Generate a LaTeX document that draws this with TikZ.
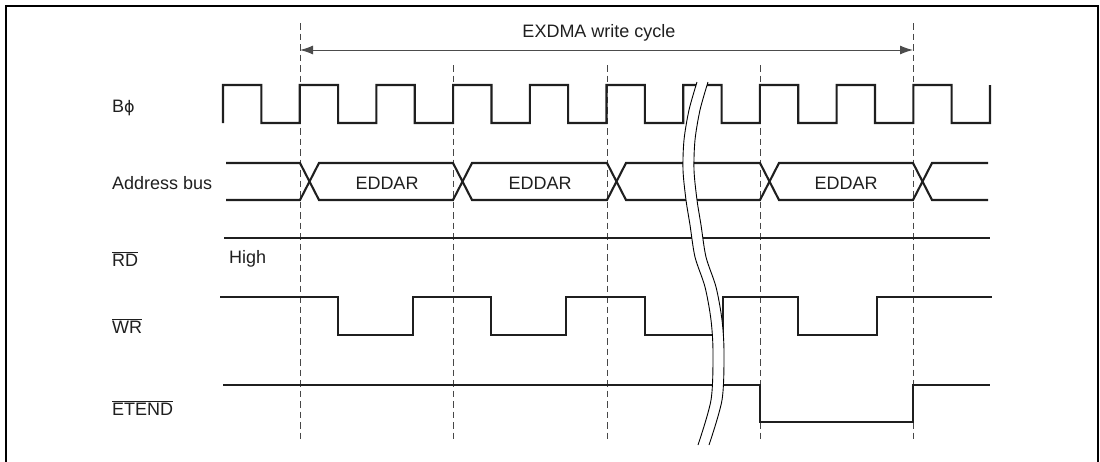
\documentclass[tikz,border=0pt]{standalone}
\usepackage{fontspec}
\setmainfont{Liberation Sans}
\newfontfamily\dvsfont{DejaVu Sans}
\usetikzlibrary{arrows.meta}
\begin{document}
\begin{tikzpicture}[x=1pt,y=-1pt,
  sig/.style={line width=2.1pt, color=black!88, line join=miter},
  guide/.style={line width=1pt, color=black!72, dash pattern=on 6.5pt off 4pt},
  lbl/.style={anchor=west, inner sep=0pt, text=black!88, font=\fontsize{18}{20}\selectfont},
  ctext/.style={inner sep=0pt, text=black!88, font=\fontsize{18}{20}\selectfont},
  brk/.style={line width=0.9pt, color=black}]
\useasboundingbox (0,0) rectangle (1100,461);
% frame
\draw[line width=2pt] (6,462) -- (6,6) -- (1098,6) -- (1098,462);
% guide coordinates
\coordinate (g1t) at (300,23); \coordinate (g1b) at (300,442);
\coordinate (g2t) at (453,65); \coordinate (g2b) at (453,442);
\coordinate (g3t) at (607,65); \coordinate (g3b) at (607,442);
\coordinate (g4t) at (760,65); \coordinate (g4b) at (760,442);
\coordinate (g5t) at (913,23); \coordinate (g5b) at (913,442);
\foreach \i in {1,...,5} \draw[guide] (g\i t) -- (g\i b);
% cycle arrow
\coordinate (aL) at (300,50); \coordinate (aR) at (913,50);
\draw[line width=1pt, color=black!70, {Latex[length=13pt,width=9pt]}-{Latex[length=13pt,width=9pt]}] (aL) -- (aR);
\node[ctext] (cyc) at (599,33) {EXDMA write cycle};
% labels
\node[lbl] (lbp) at (112,108) {B{\dvsfont\fontsize{16}{18}\selectfont ϕ}};
\node[lbl] (lab) at (112,183) {Address bus};
\node[lbl] (lrd) at (112,259) {$\overline{\mbox{RD}}$};
\node[lbl] (lwr) at (112,326) {$\overline{\mbox{WR}}$};
\node[lbl] (let) at (112,408) {$\overline{\mbox{ETEND}}$};
\node[lbl] (lhi) at (229,259) {High};
% clock
\draw[sig] (223,123) \foreach \k in {0,...,9} { -- ({223+76.7*\k},85) -- ({261.35+76.7*\k},85) -- ({261.35+76.7*\k},123) -- ({299.7+76.7*\k},123) } -- (990,85);
% address bus
\draw[sig] (226,163) -- (300,163) -- (319,200) -- (453,200) -- (472,163) -- (607,163) -- (626,200) -- (760,200) -- (779,163) -- (913,163) -- (932,200) -- (988,200);
\draw[sig] (226,200) -- (300,200) -- (319,163) -- (453,163) -- (472,200) -- (607,200) -- (626,163) -- (760,163) -- (779,200) -- (913,200) -- (932,163) -- (988,163);
\node[ctext] (e1) at (387,183) {EDDAR};
\node[ctext] (e2) at (540,183) {EDDAR};
\node[ctext] (e3) at (846,183) {EDDAR};
% RD
\draw[sig] (224,238) -- (990,238);
% WR
\draw[sig] (220,297) -- (338,297) -- (338,335) -- (413,335) -- (413,297) -- (491,297) -- (491,335) -- (566,335) -- (566,297) -- (645,297) -- (645,335) -- (723,335) -- (723,297) -- (798,297) -- (798,335) -- (877,335) -- (877,297) -- (992,297);
% ETEND
\draw[sig] (223,385) -- (760,385) -- (760,422) -- (913,422) -- (913,385) -- (990,385);
% break
\fill[white] plot[smooth] coordinates {(697,82) (689,110) (684,140) (683,170) (686,200) (690,225) (695,257) (705,287) (711,320) (713,353) (711,400) (698,445)}
  -- plot[smooth] coordinates {(709,445) (722,400) (724,353) (722,320) (716,287) (706,257) (701,225) (697,200) (694,170) (695,140) (700,110) (708,82)} -- cycle;
\draw[brk] plot[smooth] coordinates {(697,82) (689,110) (684,140) (683,170) (686,200) (690,225) (695,257) (705,287) (711,320) (713,353) (711,400) (698,445)};
\draw[brk] plot[smooth] coordinates {(708,82) (700,110) (695,140) (694,170) (697,200) (701,225) (706,257) (716,287) (722,320) (724,353) (722,400) (709,445)};
\end{tikzpicture}
\end{document}
